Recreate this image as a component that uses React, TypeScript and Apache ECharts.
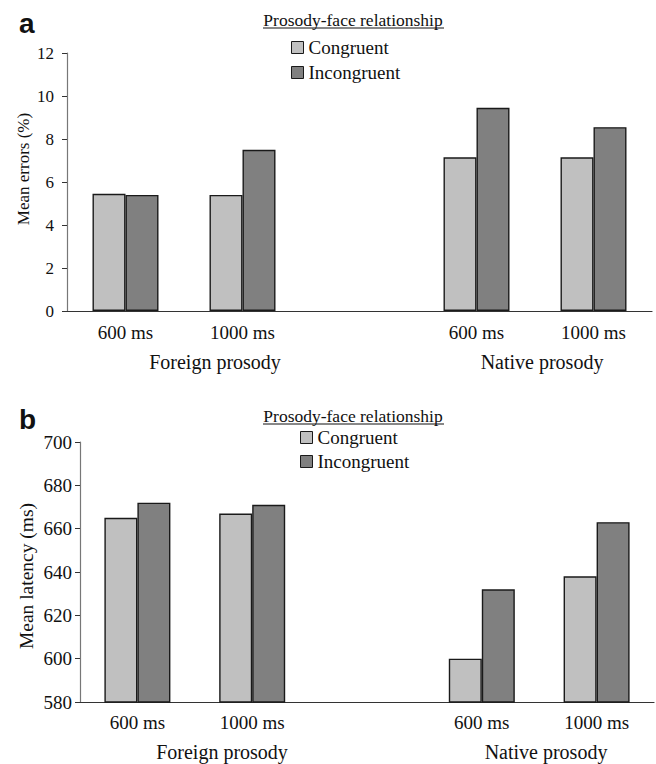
import React, { useEffect, useRef } from "react";
import * as echarts from "echarts";

const categories = ["600 ms", "1000 ms", "", "600 ms", "1000 ms"];
const groupLabels = ["Foreign prosody", "Native prosody"];
const seriesNames = ["Congruent", "Incongruent"];
const errorsCongruent: (number | string)[] = [5.45, 5.4, "-", 7.15, 7.15];
const errorsIncongruent: (number | string)[] = [5.4, 7.5, "-", 9.45, 8.55];
const latencyCongruent: (number | string)[] = [665, 667, "-", 600, 638];
const latencyIncongruent: (number | string)[] = [672, 671, "-", 632, 663];
const legendTitle = "Prosody-face relationship";
const yNames = ["Mean errors (%)", "Mean latency (ms)"];

const FONT = "'Liberation Serif', serif";
const SANS = "'Liberation Sans', sans-serif";
const LIGHT = "#c0c0c0";
const DARK = "#808080";

export default function App() {
  const ref = useRef<HTMLDivElement>(null);
  useEffect(() => {
    if (!ref.current) return;
    const chart = echarts.init(ref.current, null, { renderer: "svg" });
    const xAxisBase = (gridIndex: number, margin: number) => ({
      type: "category",
      gridIndex,
      data: categories,
      boundaryGap: true,
      axisLine: { lineStyle: { color: "#333", width: 1.2 } },
      axisTick: { show: false },
      axisLabel: { color: "#111", fontFamily: FONT, fontSize: 19, margin },
    });
    const yAxisBase = (gridIndex: number, min: number, max: number, interval: number, size: number, margin: number) => ({
      type: "value",
      gridIndex,
      min,
      max,
      interval,
      axisLine: { show: true, lineStyle: { color: "#777", width: 1.2 } },
      axisTick: { show: true, inside: false, length: 5, lineStyle: { color: "#333" } },
      axisLabel: { color: "#111", fontFamily: FONT, fontSize: size, margin },
      splitLine: { show: false },
    });
    const bar = (name: string, data: (number | string)[], color: string, idx: number, gap: string) => ({
      type: "bar",
      name,
      data,
      xAxisIndex: idx,
      yAxisIndex: idx,
      barGap: "0%",
      barCategoryGap: gap,
      itemStyle: { color, borderColor: "#1a1a1a", borderWidth: 1.4 },
    });
    const legendBase = (left: number, top: number, itemGap: number) => ({
      data: seriesNames,
      orient: "vertical",
      left,
      top,
      padding: 0,
      icon: "rect",
      itemWidth: 12,
      itemHeight: 12,
      itemGap,
      itemTextGap: 4,
      selectedMode: false,
      textStyle: { color: "#111", fontFamily: FONT, fontSize: 19 },
      itemStyle: { borderColor: "#1a1a1a", borderWidth: 1 },
    });
    const txt = (text: string, x: number, y: number, size: number, font = FONT, weight = "normal", align = "center", rotation = 0) => ({
      type: "text",
      x,
      y,
      rotation,
      style: {
        text,
        fontFamily: font,
        fontSize: size,
        fontWeight: weight,
        fill: "#111",
        textAlign: align,
        textVerticalAlign: "middle",
      },
    });
    chart.setOption({
      animation: false,
      textStyle: { fontFamily: FONT },
      grid: [
        { left: 67, right: 4, top: 53, height: 258 },
        { left: 80, right: 2, top: 442, height: 260 },
      ],
      xAxis: [xAxisBase(0, 12), xAxisBase(1, 11)],
      yAxis: [yAxisBase(0, 0, 12, 2, 17, 13), yAxisBase(1, 580, 700, 20, 19, 8)],
      legend: [legendBase(291, 38, 6), legendBase(300, 428, 5)],
      series: [
        bar(seriesNames[0], errorsCongruent, LIGHT, 0, "43.6%"),
        bar(seriesNames[1], errorsIncongruent, DARK, 0, "43.6%"),
        bar(seriesNames[0], latencyCongruent, LIGHT, 1, "42.5%"),
        bar(seriesNames[1], latencyIncongruent, DARK, 1, "42.5%"),
      ],
      graphic: [
        txt("a", 19, 23, 28, SANS, "bold", "left"),
        txt("b", 19, 419, 28, SANS, "bold", "left"),
        txt(legendTitle, 353, 20, 17.5),
        { type: "line", shape: { x1: 263, y1: 28, x2: 444, y2: 28 }, style: { stroke: "#111", lineWidth: 1 } },
        txt(legendTitle, 353, 416, 17.5),
        { type: "line", shape: { x1: 263, y1: 424, x2: 444, y2: 424 }, style: { stroke: "#111", lineWidth: 1 } },
        txt(yNames[0], 23, 169, 17, FONT, "normal", "center", Math.PI / 2),
        txt(yNames[1], 26, 576, 19.5, FONT, "normal", "center", Math.PI / 2),
        txt(groupLabels[0], 215, 362, 20),
        txt(groupLabels[1], 542, 362, 20),
        txt(groupLabels[0], 222, 752, 20),
        txt(groupLabels[1], 546, 752, 20),
      ],
    });
    return () => chart.dispose();
  }, []);
  return (
    <div
      ref={ref}
      style={{ position: "absolute", left: 0, top: 0, width: 656, height: 764, background: "#fff" }}
    />
  );
}
